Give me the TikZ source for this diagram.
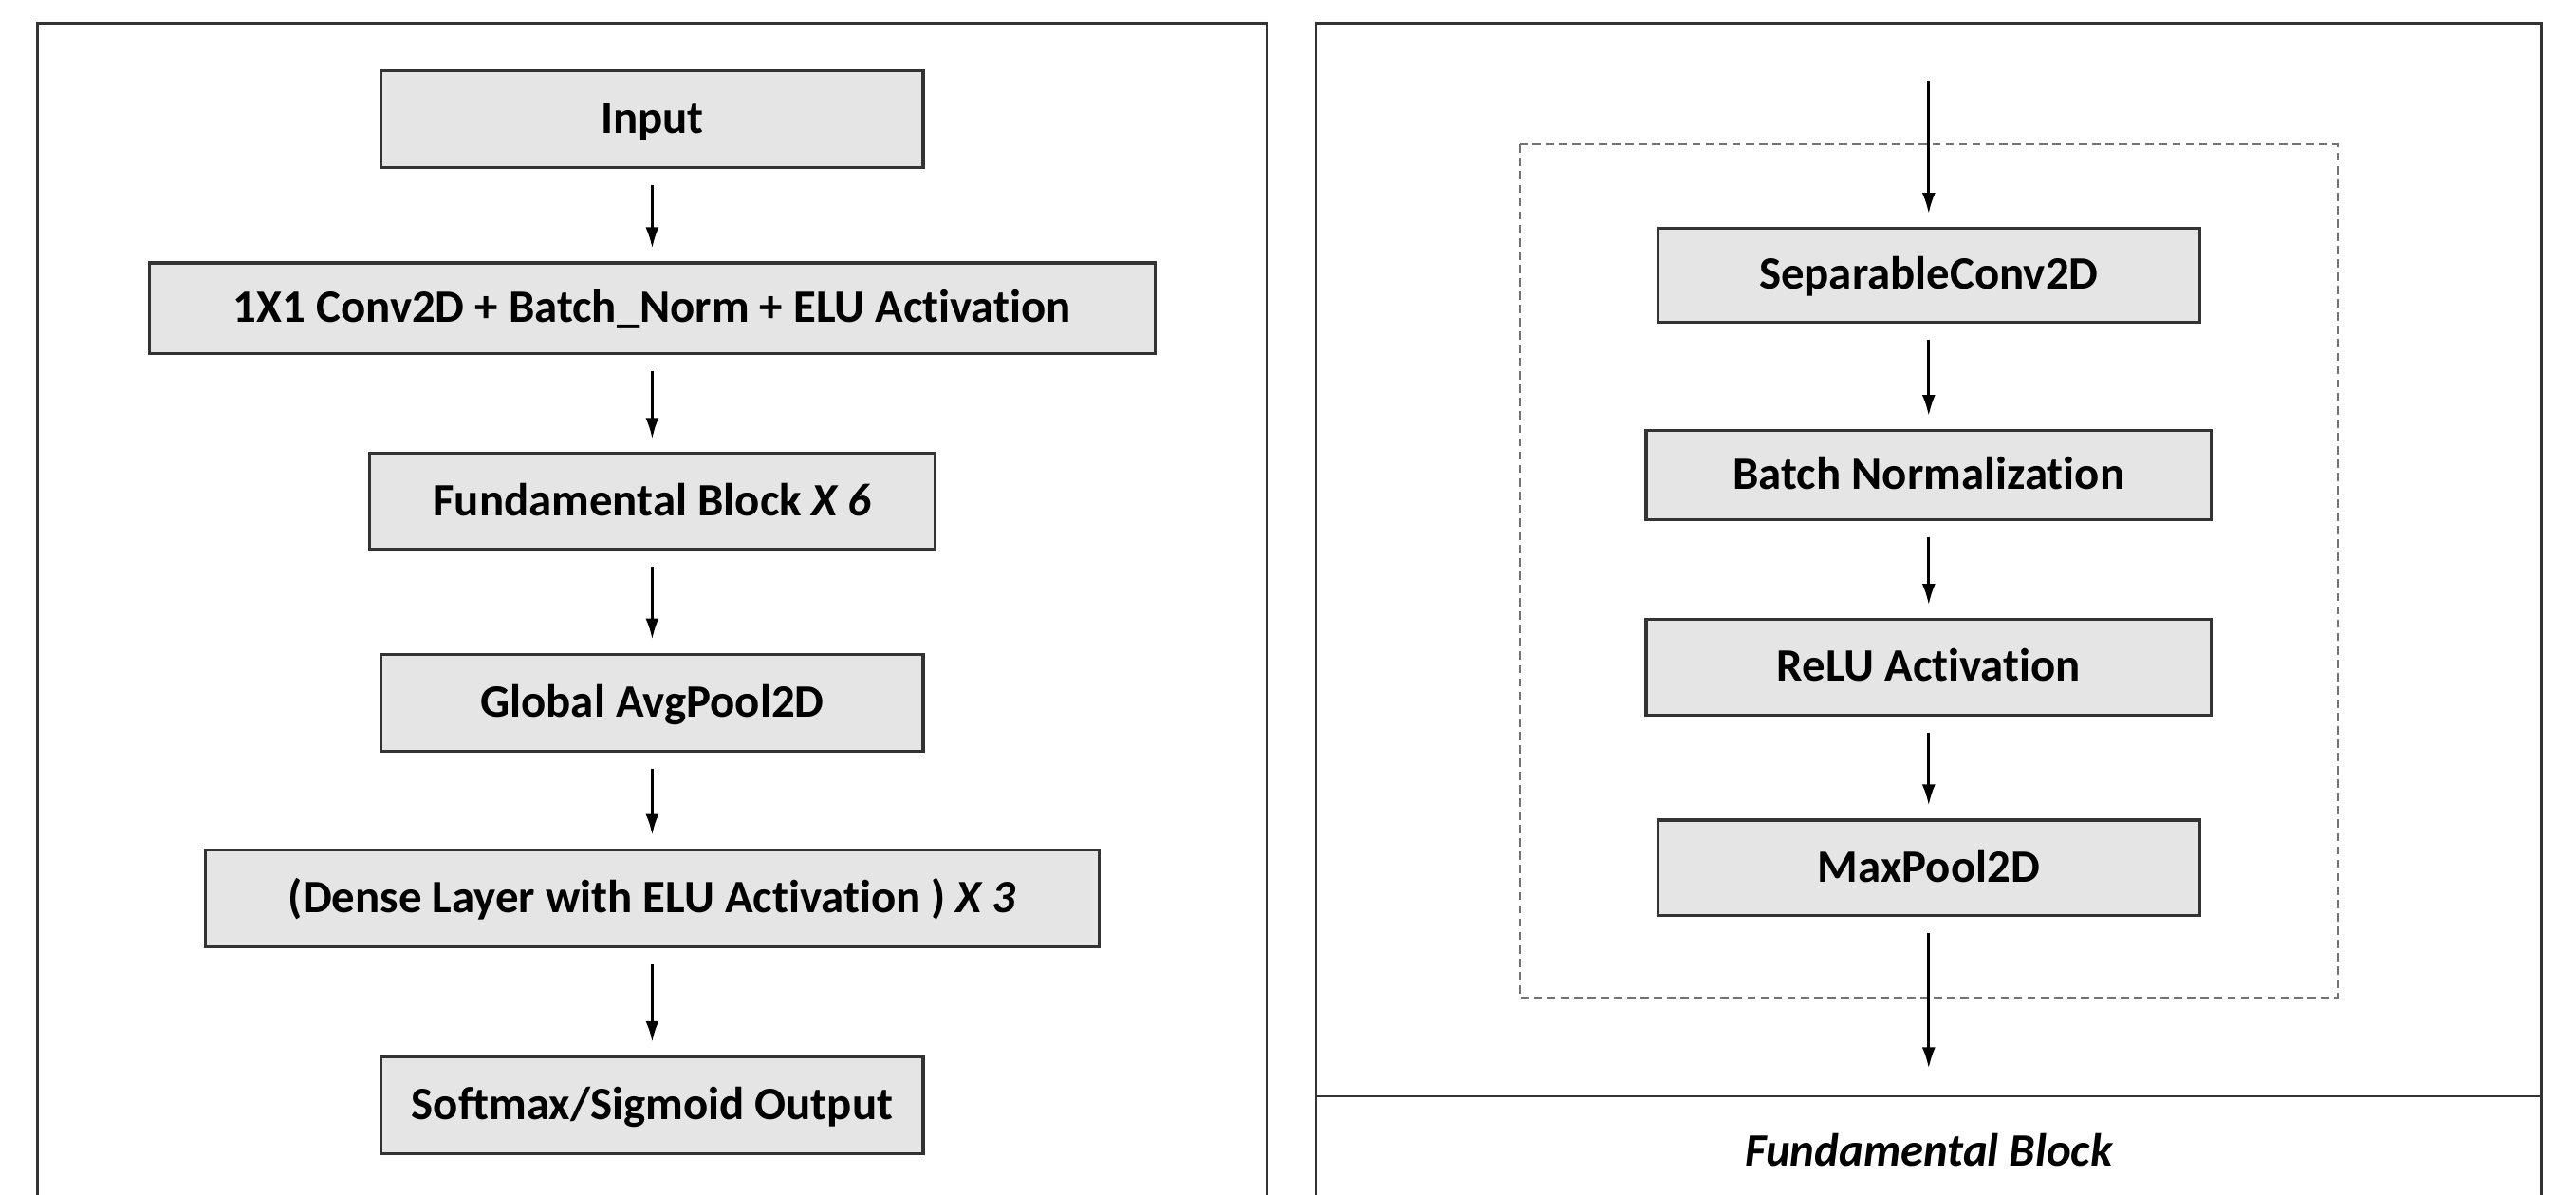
\documentclass[tikz,border=0pt]{standalone}
\usepackage{fontspec}
\setmainfont{Carlito}[Ligatures=CommonOff]
\usetikzlibrary{arrows.meta}
\begin{document}
\begin{tikzpicture}[x=0.017315cm,y=-0.017315cm,
  blk/.style={draw=black!80,line width=0.9pt,fill=black!10,inner sep=0pt,text height=8.5pt,text depth=0pt,font=\fontsize{13.9}{16}\selectfont\bfseries},
  panel/.style={draw=black!80,line width=0.8pt},
  arr/.style={-{Latex[length=0.22cm,width=0.14cm]},line width=0.8pt,shorten <=0.17cm,shorten >=0.14cm},
  dashbox/.style={draw=black!55,dashed,dash pattern=on 2.5pt off 1.5pt,line width=0.6pt}]
\useasboundingbox (0,0) rectangle (1568,727);
\clip (0,0) rectangle (1568,727);
% panels
\draw[panel] (23,14) rectangle (771,760);
\draw[panel] (801,14) rectangle (1547,760);
\draw[panel] (801,667) -- (1547,667);
% left column
\node[blk,minimum width=5.714cm,minimum height=1.022cm] (in) at (397,72.5) {Input};
\node[blk,minimum width=10.597cm,minimum height=0.952cm] (conv) at (397,187.5) {1X1 Conv2D + Batch\_Norm + ELU Activation};
\node[blk,minimum width=5.956cm,minimum height=1.004cm] (fb) at (397,305) {Fundamental Block \textit{X 6}};
\node[blk,minimum width=5.714cm,minimum height=1.022cm] (gap) at (397,427.5) {Global AvgPool2D};
\node[blk,minimum width=9.419cm,minimum height=1.022cm] (dense) at (397,546.5) {(Dense Layer with ELU Activation ) \textit{X 3}};
\node[blk,minimum width=5.714cm,minimum height=1.022cm] (out) at (397,672.5) {Softmax/Sigmoid Output};
\draw[arr] (in) -- (conv);
\draw[arr] (conv) -- (fb);
\draw[arr] (fb) -- (gap);
\draw[arr] (gap) -- (dense);
\draw[arr] (dense) -- (out);
% right column
\draw[dashbox] (925,88) rectangle (1423,607);
\node[blk,minimum width=5.714cm,minimum height=0.987cm] (sep) at (1174,167.5) {SeparableConv2D};
\node[blk,minimum width=5.956cm,minimum height=0.935cm] (bn) at (1174,289) {Batch Normalization};
\node[blk,minimum width=5.956cm,minimum height=1.004cm] (relu) at (1174,406) {ReLU Activation};
\node[blk,minimum width=5.714cm,minimum height=1.004cm] (mp) at (1174,528) {MaxPool2D};
\coordinate (tin) at (1174,49);
\coordinate (tout) at (1174,650);
\draw[arr,shorten <=0pt] (tin) -- (sep);
\draw[arr] (sep) -- (bn);
\draw[arr] (bn) -- (relu);
\draw[arr] (relu) -- (mp);
\draw[arr,shorten >=0pt] (mp) -- (tout);
\node[font=\fontsize{13.9}{16}\selectfont\bfseries\itshape,text height=8.5pt,text depth=0pt] (cap) at (1174,701) {Fundamental Block};
\end{tikzpicture}
\end{document}
